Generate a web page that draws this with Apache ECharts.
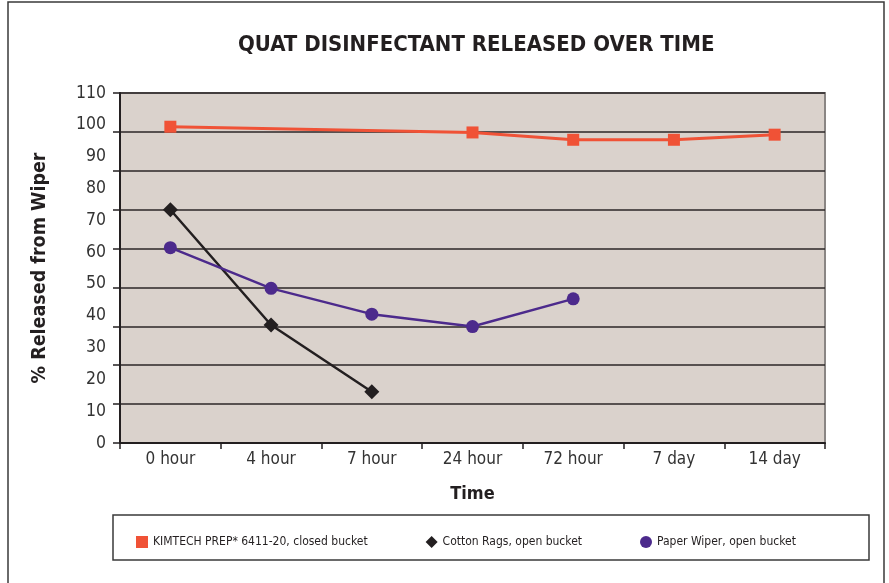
<!DOCTYPE html>
<html>
<head>
    <meta charset="utf-8">
    <title>Quat disinfectant released over time</title>
    <script src="https://cdn.jsdelivr.net/npm/echarts@6/dist/echarts.min.js"></script>
    <style>
        html, body {margin: 0; padding: 0; background: #fff;}
        #chart {width: 889px; height: 583px;}
    </style>
</head>
<body>
<div id="chart"></div>
<script type="text/javascript">
    // 数据
    var categories = ['0 hour', '4 hour', '7 hour', '24 hour', '72 hour', '7 day', '14 day'];
    var kimtech = [99.4, null, null, 97.6, 95.3, 95.3, 96.9];
    var cottonRags = [73.3, 37.1, 16.1, null, null, null, null];
    var paperWiper = [61.4, 48.6, 40.5, 36.6, 45.3, null, null];
    var yLabelTicks = [0, 110, 10];   // min, max, step of the printed labels
    var gridLines = 9;                // the plot is split into 9 bands

    var font = '"DejaVu Sans Condensed", "Liberation Sans Narrow", sans-serif';
    var ink = '#231f20';

    var myChart = echarts.init(document.getElementById('chart'));
    myChart.setOption({
        backgroundColor: '#ffffff',
        animation: false,
        textStyle: {fontFamily: font, color: ink},
        graphic: [{
            type: 'rect',
            shape: {x: 8, y: 2, width: 876, height: 620},
            style: {fill: 'none', stroke: '#3a3a3a', lineWidth: 1.5},
            silent: true
        }, {
            type: 'rect',
            shape: {x: 113, y: 515, width: 756, height: 45},
            style: {fill: 'none', stroke: '#3a3a3a', lineWidth: 1.5},
            silent: true
        }],
        title: {
            text: 'QUAT DISINFECTANT RELEASED OVER TIME',
            left: 233,
            top: 29,
            textStyle: {fontFamily: font, fontSize: 22, fontWeight: 'bold', color: ink}
        },
        legend: {
            left: 131,
            top: 531,
            width: 740,
            itemWidth: 12,
            itemHeight: 12,
            itemGap: 58,
            textStyle: {fontFamily: font, fontSize: 12, color: ink},
            data: [
                {name: 'KIMTECH PREP* 6411-20, closed bucket', icon: 'rect'},
                {name: 'Cotton Rags, open bucket', icon: 'diamond'},
                {name: 'Paper Wiper, open bucket', icon: 'circle'}
            ]
        },
        grid: {
            left: 120, top: 93, right: 64, bottom: 140,
            show: true,
            backgroundColor: '#dad2cc',
            borderColor: '#8a8684',
            borderWidth: 2
        },
        xAxis: {
            type: 'category',
            data: categories,
            boundaryGap: true,
            name: 'Time',
            nameLocation: 'middle',
            nameGap: 42,
            nameTextStyle: {fontFamily: font, fontSize: 18, fontWeight: 'bold', color: ink},
            axisLine: {lineStyle: {color: ink, width: 2}},
            axisTick: {show: true, length: 6, lineStyle: {color: ink, width: 1.5}},
            axisLabel: {fontFamily: font, fontSize: 17, color: '#333', margin: 8}
        },
        yAxis: [{
            type: 'value',
            min: yLabelTicks[0],
            max: yLabelTicks[1],
            interval: (yLabelTicks[1] - yLabelTicks[0]) / gridLines,
            axisLine: {show: true, lineStyle: {color: ink, width: 2}},
            axisTick: {show: true, length: 7, lineStyle: {color: ink, width: 1.5}},
            axisLabel: {show: false},
            splitLine: {show: true, lineStyle: {color: '#2b2627', width: 1.5}},
            name: '% Released from Wiper',
            nameLocation: 'middle',
            nameGap: 70,
            nameRotate: 90,
            nameTextStyle: {fontFamily: font, fontSize: 19.5, fontWeight: 'bold', color: ink}
        }, {
            type: 'value',
            position: 'left',
            min: yLabelTicks[0],
            max: yLabelTicks[1],
            interval: yLabelTicks[2],
            axisLine: {show: false},
            axisTick: {show: false},
            splitLine: {show: false},
            axisLabel: {
                fontFamily: font, fontSize: 17.5, color: '#333', margin: 14,
                verticalAlign: 'middle', padding: [0, 0, 10, 0]
            }
        }],
        series: [{
            name: 'KIMTECH PREP* 6411-20, closed bucket',
            type: 'line',
            data: kimtech,
            connectNulls: true,
            symbol: 'rect',
            symbolSize: 12,
            color: '#f05236',
            lineStyle: {color: '#f05236', width: 3}
        }, {
            name: 'Cotton Rags, open bucket',
            type: 'line',
            data: cottonRags,
            symbol: 'diamond',
            symbolSize: 15,
            color: '#231f20',
            lineStyle: {color: '#231f20', width: 2.5}
        }, {
            name: 'Paper Wiper, open bucket',
            type: 'line',
            data: paperWiper,
            symbol: 'circle',
            symbolSize: 13,
            color: '#4c2a8c',
            lineStyle: {color: '#4c2a8c', width: 2.5}
        }]
    });
</script>
</body>
</html>
